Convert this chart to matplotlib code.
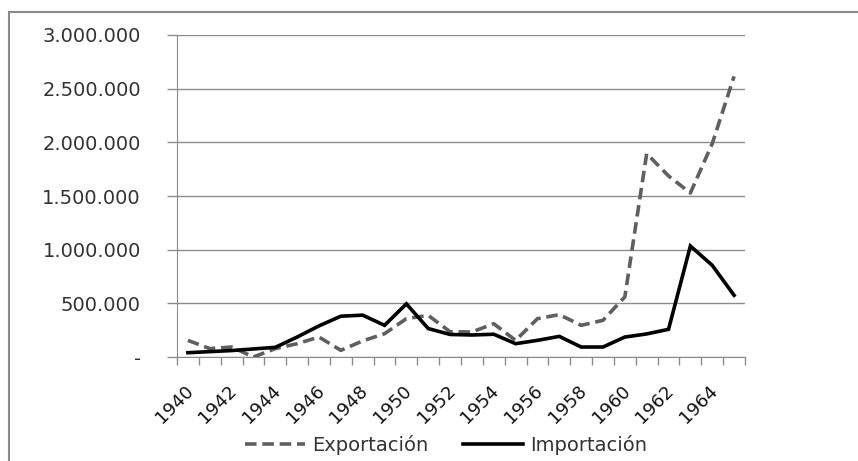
import matplotlib
matplotlib.use('Agg')
import matplotlib.pyplot as plt
import matplotlib.transforms as mtrans
from matplotlib.lines import Line2D
from matplotlib.ticker import FuncFormatter, FixedLocator

grid_color = '#8C8C8C'
text_color = '#333333'
export_color = '#5F5F5F'
import_color = '#000000'

years = list(range(1940, 1966))
exportacion = [155000, 78000, 93000, 0, 78000, 124000, 186000, 62000, 150000, 217000,
               357000, 388000, 235000, 233000, 310000, 155000, 357000, 395000, 295000, 342000,
               560000, 1895000, 1687000, 1528000, 1988000, 2615000]
importacion = [40000, 50000, 60000, 75000, 90000, 186000, 290000, 380000, 390000, 295000,
               495000, 265000, 210000, 205000, 212000, 124000, 155000, 192000, 93000, 93000,
               186000, 215000, 258000, 1034000, 854000, 575000]
y_ticks = [0, 500000, 1000000, 1500000, 2000000, 2500000, 3000000]


def fmt_thousands(v, pos):
	if v == 0:
		return '-'
	return '{:,.0f}'.format(v).replace(',', '.')


fig = plt.figure(figsize=(8.58, 4.61), dpi=100)
fig.set_facecolor('white')
ax = fig.add_axes([177 / 858, 1 - 357 / 461, (745 - 177) / 858, (357 - 35) / 461])

x = list(range(len(years)))
ax.plot(x, exportacion, color=export_color, linewidth=2.6, linestyle=(0, (3.2, 1.6)),
        label='Exportación', dash_capstyle='butt')
ax.plot(x, importacion, color=import_color, linewidth=2.6, label='Importación',
        solid_joinstyle='miter')

ax.set_xlim(-0.5, len(years) - 0.5)
ax.set_ylim(0, 3000000)
ax.yaxis.set_major_locator(FixedLocator(y_ticks))
ax.yaxis.set_major_formatter(FuncFormatter(fmt_thousands))
ax.grid(axis='y', color=grid_color, linewidth=1.0)
ax.set_axisbelow(True)

# category ticks between the points, labels on every other year
ax.set_xticks([i - 0.5 for i in range(len(years) + 1)], minor=False)
ax.set_xticklabels([])
ax.set_xticks([i for i in range(0, len(years), 2)], minor=True)
ax.set_xticklabels([str(y) for y in years[::2]], minor=True, rotation=45,
                   ha='right', va='top', rotation_mode='anchor')
ax.tick_params(axis='x', which='major', length=6, color=grid_color, width=1)
ax.tick_params(axis='x', which='minor', length=0, pad=18, labelsize=13, labelcolor='#111111')
ax.tick_params(axis='y', length=7, color=grid_color, width=1, labelsize=14,
               labelcolor=text_color, pad=19)
shift = mtrans.ScaledTranslation(-4 / 100, 0, fig.dpi_scale_trans)
for lbl in ax.get_xticklabels(minor=True):
	lbl.set_transform(lbl.get_transform() + shift)

for side in ['top', 'right']:
	ax.spines[side].set_visible(False)
ax.spines['left'].set_color(grid_color)
ax.spines['bottom'].set_color(grid_color)

leg = fig.legend(loc='center', bbox_to_anchor=(446 / 858, 1 - 445 / 461), ncol=2, frameon=False,
                 fontsize=14, handlelength=3.1, handletextpad=0.35, columnspacing=1.8)
for t in leg.get_texts():
	t.set_color(text_color)

# outer chart frame (cut by the image edge)
fig.add_artist(Line2D([9 / 858, 1.0], [1 - 12 / 461, 1 - 12 / 461], color='#8A8A8A', linewidth=1.5))
fig.add_artist(Line2D([9 / 858, 9 / 858], [0.0, 1 - 12 / 461], color='#8A8A8A', linewidth=1.5))

fig.savefig('out.png', dpi=100, facecolor='white')
